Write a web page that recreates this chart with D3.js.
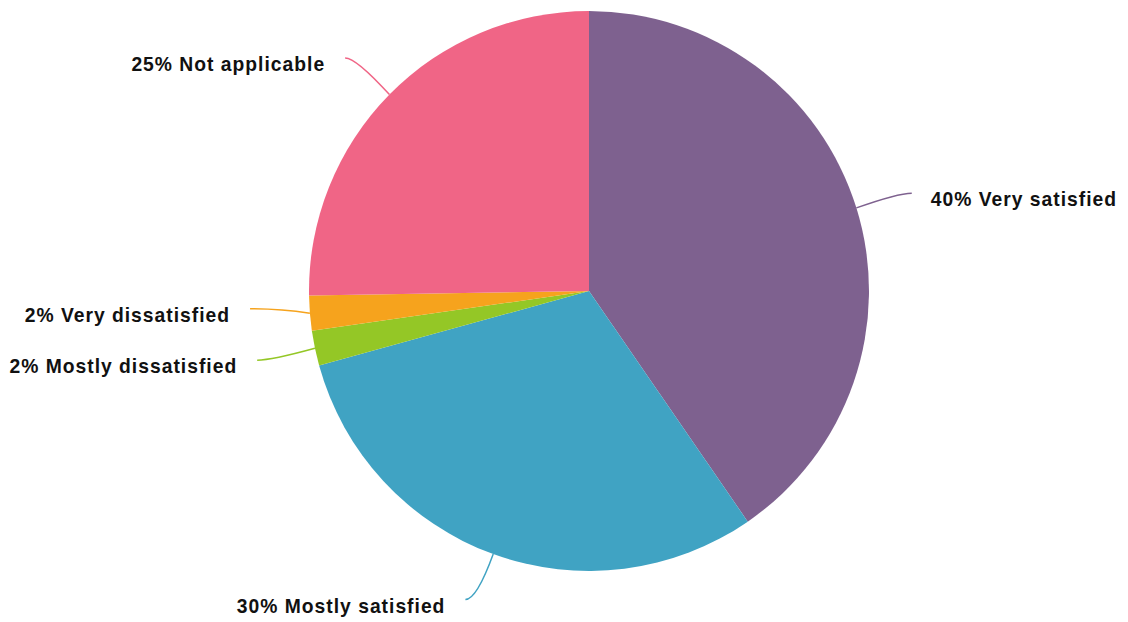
<!DOCTYPE html>
<html>
<head>
<meta charset="utf-8">
<script src="https://cdn.jsdelivr.net/npm/d3@7/dist/d3.min.js"></script>
<style>
  html, body { margin: 0; padding: 0; background: #ffffff; }
  svg { display: block; }
  .label { font-family: "Liberation Sans", Arial, sans-serif; font-weight: bold; font-size: 19.3px; letter-spacing: 1px; fill: #111; }
</style>
</head>
<body>
<svg id="chart" width="1128" height="622"></svg>
<script>
// Survey answers, in drawing order (clockwise from 12 o'clock)
const categories = ["Very satisfied", "Mostly satisfied", "Mostly dissatisfied", "Very dissatisfied", "Not applicable"];
const percents = [40, 30, 2, 2, 25];
const colors = ["#7e618f", "#40a3c3", "#94c726", "#f6a31d", "#f06586"];

// Layout
const width = 1128, height = 622;
const cx = 589, cy = 291, radius = 280;
const labelRadius = 338;
// small offsets so neighbouring labels sit apart
const labelNudge = {
  "Very satisfied": [0, 2.5],
  "Mostly satisfied": [-8, -9],
  "Mostly dissatisfied": [-1, 0],
  "Very dissatisfied": [-2, -9],
  "Not applicable": [-3, 4]
};

const svg = d3.select("#chart");
const g = svg.append("g").attr("transform", `translate(${cx},${cy})`);

const data = categories.map((c, i) => ({ name: c, value: percents[i], color: colors[i] }));

const pie = d3.pie().sort(null).value(d => d.value).startAngle(0).endAngle(2 * Math.PI);
const arcs = pie(data);
const arc = d3.arc().innerRadius(0).outerRadius(radius);

g.selectAll("path.slice")
  .data(arcs)
  .join("path")
  .attr("class", "slice")
  .attr("d", arc)
  .attr("fill", d => d.data.color);

// connector lines and labels
arcs.forEach(d => {
  const a = (d.startAngle + d.endAngle) / 2;
  const dx = Math.sin(a), dy = -Math.cos(a);
  const left = a > Math.PI;
  const nudge = labelNudge[d.data.name] || [0, 0];
  const sx = dx * radius, sy = dy * radius;
  const ex = dx * labelRadius + nudge[0];
  const ey = dy * labelRadius + nudge[1];

  // control point: where the radial direction meets the label's horizontal line
  let qx;
  const t = Math.abs(dy) > 1e-6 ? (ey - sy) / dy : -1;
  if (t > 5) {
    const frac = Math.min((dx * t) / (ex - sx), 0.75);
    qx = sx + (ex - sx) * frac;
  } else {
    qx = sx + (ex - sx) * 0.5;
  }
  const path = d3.path();
  path.moveTo(sx, sy);
  path.quadraticCurveTo(qx, ey, ex, ey);
  g.append("path")
    .attr("d", path.toString())
    .attr("fill", "none")
    .attr("stroke", d.data.color)
    .attr("stroke-width", 1.5);

  g.append("text")
    .attr("class", "label")
    .attr("x", left ? ex - 20 : ex + 19)
    .attr("y", ey + 13)
    .attr("text-anchor", left ? "end" : "start")
    .text(`${d.data.value}% ${d.data.name}`);
});
</script>
</body>
</html>
